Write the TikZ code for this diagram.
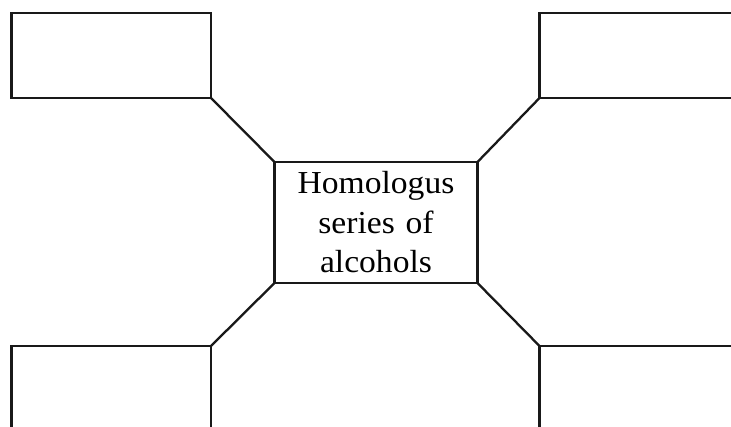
\documentclass[tikz,border=0pt]{standalone}
\usepackage{fontspec}
\setmainfont[FakeStretch=1.05]{Liberation Serif}
\begin{document}
\begin{tikzpicture}[x=1pt,y=-1pt,
  box/.style={draw=black!90, line width=2.3pt, inner sep=0pt, outer sep=0pt, anchor=north west},
  link/.style={draw=black!90, line width=2.3pt}]
\useasboundingbox (0,0) rectangle (731,427);
\clip (0,0) rectangle (731,427);
\node[box, minimum width=199.5pt, minimum height=85pt] (tl) at (11.5,13) {};
\node[box, minimum width=210pt, minimum height=85pt] (tr) at (539.5,13) {};
\node[box, minimum width=199.5pt, minimum height=95pt] (bl) at (11.5,346) {};
\node[box, minimum width=210pt, minimum height=95pt] (br) at (539.5,346) {};
\node[draw=black!90, line width=2.3pt, inner sep=0pt, outer sep=0pt,
  minimum width=203pt, minimum height=121pt, text width=203pt, align=center,
  font=\fontsize{32}{39.5}\selectfont] (c) at (376,222.5) {Homologus\\series of\\alcohols};
\draw[link] (tl.south east) -- (c.north west);
\draw[link] (tr.south west) -- (c.north east);
\draw[link] (bl.north east) -- (c.south west);
\draw[link] (br.north west) -- (c.south east);
\end{tikzpicture}
\end{document}
